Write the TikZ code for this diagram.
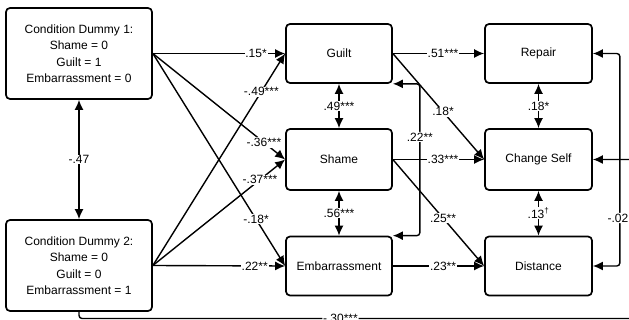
\documentclass[tikz,border=0pt]{standalone}
\usepackage{fontspec}
\setmainfont{Liberation Sans}
\usetikzlibrary{arrows.meta}

\tikzset{
  box/.style={draw, line width=1.7pt, rounded corners=4pt, align=center,
    minimum width=106pt, minimum height=59pt, inner sep=2pt},
  bigbox/.style={box, minimum width=146pt, minimum height=91pt},
  lab/.style={fill=white, inner sep=0.8pt},
  arr/.style={line width=1.4pt}
}

\begin{document}
\begin{tikzpicture}[x=1pt, y=-1pt, font=\fontsize{12}{16.5}\selectfont,
  >={Latex[length=10pt,width=9pt]}]
  \useasboundingbox (0,0) rectangle (629,320);
  \clip (0,0) rectangle (629,320);

  % Boxes
  \node[bigbox] (dumA) at (79,53.5) {Condition Dummy 1:\\ Shame = 0\\ Guilt = 1\\ Embarrassment = 0};
  \node[bigbox] (dumB) at (79,265.5) {Condition Dummy 2:\\ Shame = 0\\ Guilt = 0\\ Embarrassment = 1};
  \node[box] (guilt) at (339,53.5) {Guilt};
  \node[box, minimum height=61pt] (shame) at (339,159.5) {Shame};
  \node[box] (embar) at (339,266) {Embarrassment};
  \node[box, minimum width=107pt] (repair) at (538.5,53.5) {Repair};
  \node[box, minimum width=107pt, minimum height=61pt] (change) at (538.5,159.5) {Change Self};
  \node[box, minimum width=107pt] (distance) at (538.5,266) {Distance};
  \coordinate (offR) at (660,318.5);

  % Dummy paths
  \draw[arr,<->] (dumA) -- node[lab] {-.47} (dumB);
  \draw[arr,->] (dumA.east) -- node[lab, pos=0.78] {.15*} (guilt.west);
  \draw[arr,->] (dumA.east) -- node[lab, pos=0.84] {-.36***} (shame.west);
  \draw[arr,->] (dumA.east) -- node[lab, pos=0.78] {-.18*} (embar.west);
  \draw[arr,->] (dumB.east) -- node[lab, pos=0.82] {-.49***} (guilt.west);
  \draw[arr,->] (dumB.east) -- node[lab, pos=0.81] {-.37***} (shame.west);
  \draw[arr,->] (dumB.east) -- node[lab, pos=0.77] {.22**} (embar.west);

  % Correlations between emotions
  \draw[arr,<->] (guilt) -- node[lab] {.49***} (shame);
  \draw[arr,<->] (shame) -- node[lab] {.56***} (embar);
  \draw[arr,<->, rounded corners=3pt] (guilt.south east) -- ++(27,0)
    |- node[lab, pos=0.175] {.22**} (embar.north east);

  % Emotions to outcomes
  \draw[arr,->] (guilt.east) -- node[lab, pos=0.55] {.51***} (repair.west);
  \draw[arr,->] (guilt.east) -- node[lab, pos=0.55] {.18*} (change.west);
  \draw[arr,->] (shame.east) -- node[lab, pos=0.55] {.33***} (change.west);
  \draw[arr,->] (shame.east) -- node[lab, pos=0.55] {.25**} (distance.west);
  \draw[arr,->] (embar.east) -- node[lab, pos=0.55] {.23**} (distance.west);

  % Correlations between outcomes
  \draw[arr,<->] (repair) -- node[lab] {.18*} (change);
  \draw[arr,<->] (change) -- node[lab] {.13\textsuperscript{\textdagger}} (distance);
  \draw[arr,<->, rounded corners=3pt] (repair.east) -- ++(27,0)
    |- node[lab, pos=0.387, xshift=-2pt] {-.02} (distance.east);

  % Dummy 2 to change self
  \draw[arr,->, rounded corners=3pt] (dumB.south) |- node[lab, pos=0.725] {-.30***} (offR)
    |- (change.east);
\end{tikzpicture}
\end{document}
